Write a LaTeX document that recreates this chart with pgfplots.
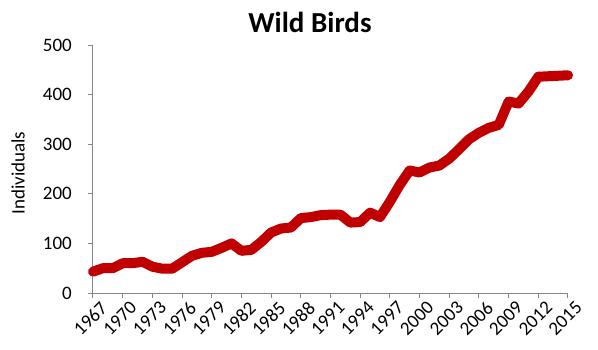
\documentclass[border=0pt]{standalone}
\usepackage{pgfplots}
\pgfplotsset{compat=1.18}
\usepackage{fontspec}
\setmainfont{Carlito}
\definecolor{birdred}{RGB}{192,0,0}
\definecolor{axgray}{RGB}{134,134,134}

\begin{document}
\begin{tikzpicture}[x=1pt,y=1pt]
\useasboundingbox (0,0) rectangle (598,349);
\begin{axis}[
  at={(93pt,56pt)}, anchor=south west,
  scale only axis, width=475pt, height=248pt,
  xmin=1967, xmax=2015, ymin=0, ymax=500,
  axis lines*=left,
  axis line style={axgray, line width=1pt, -},
  xtick={1967,1970,...,2015}, ytick={0,100,...,500},
  tick style={axgray, line width=1pt},
  tick align=outside, major tick length=5pt,
  /pgf/number format/assume math mode=true,
  /pgf/number format/1000 sep={},
  tick label style={font=\fontsize{19}{19}\selectfont},
  xticklabel style={rotate=45, anchor=north east, inner sep=1pt, xshift=4pt, yshift=-5pt},
  yticklabel style={anchor=east, inner sep=0pt, xshift=-16pt},
  ylabel={Individuals},
  every axis y label/.style={at={(axis description cs:0,0.5)}, rotate=90, anchor=center,
    yshift=75pt, xshift=-4pt, font=\fontsize{19}{19}\selectfont},
  clip=false,
]
\addplot[birdred, line width=10pt, line join=round, line cap=round] coordinates {
(1967,43) (1968,50) (1969,50) (1970,60) (1971,60) (1972,63) (1973,53) (1974,49)
(1975,49) (1976,62) (1977,75) (1978,81) (1979,83) (1980,91) (1981,100) (1982,85)
(1983,87) (1984,103) (1985,122) (1986,130) (1987,132) (1988,151) (1989,153) (1990,157)
(1991,158) (1992,158) (1993,142) (1994,143) (1995,162) (1996,153) (1997,184) (1998,218)
(1999,247) (2000,243) (2001,253) (2002,257) (2003,271) (2004,290) (2005,310) (2006,323)
(2007,333) (2008,339) (2009,386) (2010,382) (2011,406) (2012,436) (2013,437) (2014,438)
(2015,439)
};
\end{axis}
\node[font=\bfseries\fontsize{29}{29}\selectfont] at (310,327) {Wild Birds};
\end{tikzpicture}
\end{document}
